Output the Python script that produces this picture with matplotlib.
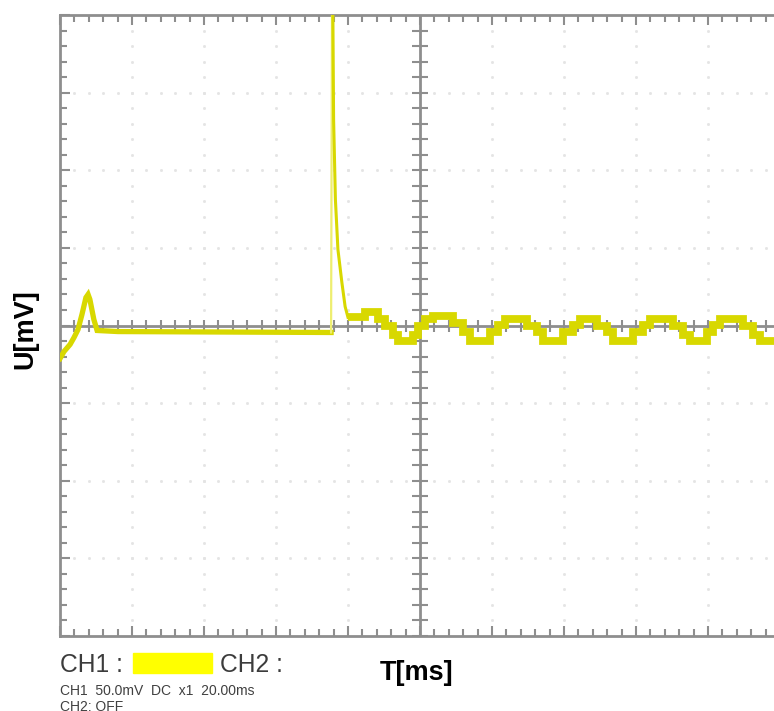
import numpy as np
import matplotlib
matplotlib.use("Agg")
import matplotlib.pyplot as plt
from matplotlib.patches import Rectangle

plt.rcParams["font.family"] = ["Liberation Sans", "DejaVu Sans"]

# ── Scope settings (20 ms/div, 50 mV/div, 10 x 8 divisions) ──
T_DIV = 20.0
U_DIV = 50.0
T_SPAN = 200.0
U_SPAN = 200.0

# ── Trace ──────────────────────────────────────────────────
# start-up bump, then flat baseline up to the switching spike
start_t = [0.0, 1.1, 2.8, 3.9, 5.0, 6.1, 7.2, 7.8, 8.3, 9.4, 10.3, 16.1, 75.3]
start_u = [-21.3, -16.8, -12.2, -7.7, -2.6, 7.1, 18.0, 20.0, 16.8, 3.9, -3.2, -3.9, -4.5]

# spike edge (off screen at the top)
spike_t = [75.3, 75.6]
spike_u = [-4.5, 240.0]

# decay back to the baseline
decay_t = [75.6, 75.8, 76.0, 76.5, 77.2, 78.3, 79.2, 80.0]
decay_u = [240.0, 200.4, 132.7, 81.2, 49.0, 27.7, 12.2, 5.2]

# quantised 50 Hz ripple after the spike (stair edges / levels)
wave_edges = [80.0, 84.7, 88.3, 90.3, 92.5, 93.9, 98.1, 99.4, 101.4, 103.6,
              109.2, 111.9, 113.9, 119.4, 121.7, 123.6, 129.7, 132.5, 134.2,
              139.7, 142.5, 144.4, 149.2, 151.9, 153.6, 159.2, 161.9, 163.9,
              170.3, 173.1, 175.0, 179.7, 181.4, 183.3, 189.7, 192.5, 194.4, 200.0]
wave_levels = [5.2, 8.4, 3.9, -0.6, -5.8, -10.3, -5.8, -0.6, 3.9, 5.8,
               1.9, -4.5, -10.3, -4.5, 0.6, 3.9, -0.6, -4.5, -10.3, -4.5,
               0.6, 3.9, -0.6, -4.5, -10.3, -4.5, 0.6, 3.9, -0.6, -5.8,
               -10.3, -4.5, 0.6, 3.9, -0.6, -5.8, -10.3]

TRACE = "#d8d800"
GRID = "#8e8e8e"

W, H = 774, 711
fig = plt.figure(figsize=(W / 100, H / 100), dpi=100)
# screen area: x 60..780 px (right edge cut off), y 15..636 px
ax = fig.add_axes([60 / W, 1 - 636 / H, 720 / W, 621 / H])
ax.set_xlim(0, T_SPAN)
ax.set_ylim(-U_SPAN, U_SPAN)

for s in ax.spines.values():
    s.set_color(GRID)
    s.set_linewidth(2)

# border ticks
ax.set_xticks(np.arange(0, T_SPAN + 1, T_DIV))
ax.set_xticks(np.arange(0, T_SPAN + 1, T_DIV / 5), minor=True)
ax.set_yticks(np.arange(-U_SPAN, U_SPAN + 1, U_DIV))
ax.set_yticks(np.arange(-U_SPAN, U_SPAN + 1, U_DIV / 5), minor=True)
ax.tick_params(which="both", direction="in", top=True, right=False,
               labelbottom=False, labelleft=False, color=GRID, width=1.5)
ax.tick_params(which="major", length=7)
ax.tick_params(which="minor", length=5)

# faint dotted division grid
xs_minor = np.arange(0, T_SPAN + 1, T_DIV / 5)
ys_minor = np.arange(-U_SPAN, U_SPAN + 1, U_DIV / 5)
for xd in np.arange(T_DIV, T_SPAN, T_DIV):
    ax.plot(np.full_like(ys_minor, xd), ys_minor, ls="", marker="s", ms=1.0,
            color="#e4e4e4", zorder=1)
for yd in np.arange(-U_SPAN + U_DIV, U_SPAN, U_DIV):
    ax.plot(xs_minor, np.full_like(xs_minor, yd), ls="", marker="s", ms=1.0,
            color="#e4e4e4", zorder=1)

# centre cross with ticks
ax.axhline(0, color=GRID, lw=2, zorder=2)
ax.axvline(T_SPAN / 2, color=GRID, lw=2, zorder=2)
ax.plot(xs_minor, np.zeros_like(xs_minor), ls="", marker="|", ms=9, mew=1.5,
        color=GRID, zorder=2)
ax.plot(np.full_like(ys_minor, T_SPAN / 2), ys_minor, ls="", marker="_", ms=11,
        mew=1.5, color=GRID, zorder=2)

# ── Trace ──────────────────────────────────────────────────
ax.plot(start_t, start_u, color=TRACE, lw=3.8, solid_joinstyle="miter", zorder=3)
ax.plot(spike_t, spike_u, color="#eeee70", lw=1.6, zorder=3)
ax.plot(decay_t, decay_u, color=TRACE, lw=2.2, zorder=3)
ax.stairs(wave_levels, wave_edges, baseline=None, color=TRACE, lw=5.6, zorder=3)

# ── Labels / scope footer ──────────────────────────────────
fig.text(25 / W, 1 - 329 / H, "U[mV]", rotation=90, ha="center", va="center",
         fontsize=19.5, fontweight="bold", color="black")
fig.text(417 / W, 1 - 680 / H, "T[ms]", ha="center", va="baseline",
         fontsize=19.5, fontweight="bold", color="black")

fig.text(60 / W, 1 - 672 / H, "CH1 :", ha="left", va="baseline",
         fontsize=17.7, color="#3c3c3c")
fig.patches.append(Rectangle((133 / W, 1 - 673 / H), 79 / W, 20 / H,
                             transform=fig.transFigure, color="#ffff00"))
fig.text(220 / W, 1 - 672 / H, "CH2 :", ha="left", va="baseline",
         fontsize=17.7, color="#3c3c3c")
fig.text(60 / W, 1 - 695 / H, "CH1  50.0mV  DC  x1  20.00ms", ha="left",
         va="baseline", fontsize=10, color="#404040")
fig.text(60 / W, 1 - 700 / H, "CH2: OFF", ha="left", va="top",
         fontsize=10, color="#404040")

fig.savefig("out.png", dpi=100)
